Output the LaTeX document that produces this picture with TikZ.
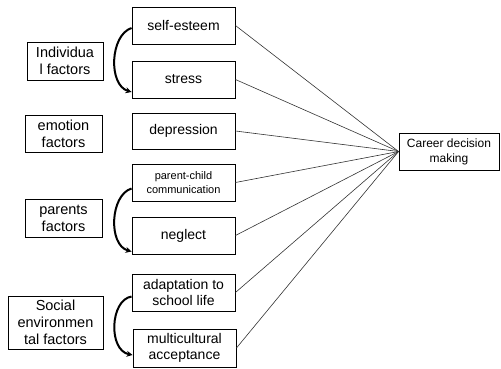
\documentclass[tikz,border=0pt]{standalone}
\usepackage{fontspec}
\setmainfont{Liberation Sans}
\usetikzlibrary{arrows.meta}
\begin{document}
\begin{tikzpicture}[x=1pt,y=-1pt,
  box/.style={draw=black,line width=0.9pt,inner sep=0pt,align=center,
    minimum width=103pt,minimum height=37pt,font=\fontsize{14}{16}\selectfont},
  fbox/.style={draw=black,line width=0.9pt,inner sep=0pt,align=center,
    font=\fontsize{14.5}{17}\selectfont},
  link/.style={draw=black!80,line width=0.6pt},
  curvearrow/.style={draw=black,line width=2pt,-{Stealth[length=6pt,width=6pt]}}]
\useasboundingbox (0,0) rectangle (501,369);
% middle column
\node[box] (se) at (183.5,25.5) {self-esteem};
\node[box] (st) at (183.5,79.5) {\raisebox{-3pt}{stress}};
\node[box,minimum height=36pt] (dep) at (183.5,131) {depression};
\node[box,font=\fontsize{11}{14}\selectfont] (pc) at (183.5,182.5) {parent-child\\communication};
\node[box] (ne) at (183.5,235.5) {\raisebox{-3pt}{neglect}};
\node[box] (ad) at (183.5,292.5) {adaptation to\\school life};
\node[box,minimum height=38pt] (mc) at (184.5,348) {multicultural\\acceptance};
% left column
\node[fbox,minimum width=76pt,minimum height=38pt] (ind) at (65,61) {Individua\\l factors};
\node[fbox,minimum width=77pt,minimum height=37pt] (emo) at (63.5,133.5) {emotion\\factors};
\node[fbox,minimum width=77pt,minimum height=38pt] (par) at (63.5,218) {parents\\factors};
\node[fbox,minimum width=95pt,minimum height=53pt] (soc) at (55.5,322.5) {Social\\environmen\\tal factors};
% target
\node[draw=black,line width=0.9pt,inner sep=0pt,align=center,minimum width=100pt,
  minimum height=37pt,font=\fontsize{12}{15}\selectfont] (car) at (449,151.5) {Career decision\\making};
% links
\foreach \n in {se,st,dep,pc,ne,ad,mc}{
  \draw[link] (\n.east) -- (car.west);
}
% curved arrows
\draw[curvearrow] ([yshift=-2.5pt]se.west) .. controls (110,35) and (108,85) .. ([yshift=-12.5pt]st.west);
\draw[curvearrow] ([yshift=-6pt]pc.west) .. controls (110,195) and (108,245) .. ([yshift=-16pt]ne.west);
\draw[curvearrow] ([yshift=-4pt]ad.west) .. controls (110,300) and (108,350) .. ([yshift=-7pt]mc.west);
\end{tikzpicture}
\end{document}
